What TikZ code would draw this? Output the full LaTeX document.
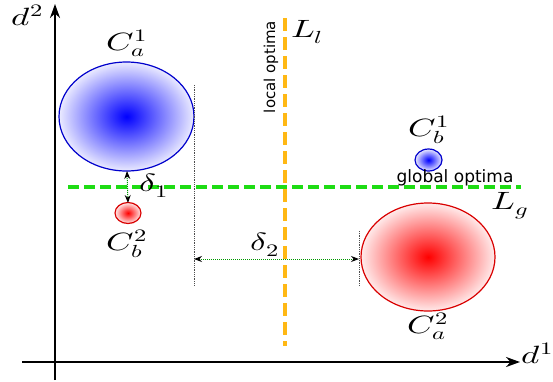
\documentclass[tikz,border=0pt]{standalone}
\usepackage{fontspec}
\usepackage{unicode-math}
\setmathfont{Latin Modern Math}
\newfontfamily\lblfont{DejaVu Sans}
\usetikzlibrary{arrows.meta}
\definecolor{optorange}{RGB}{255,184,20}
\definecolor{optgreen}{RGB}{30,220,20}
\newcommand{\stretchm}[1]{\scalebox{1.4}[1]{$#1$}}
\begin{document}
\begin{tikzpicture}[x=1pt,y=-1pt,
  axis/.style={line width=2.2pt,-{Stealth[length=14pt,width=10pt]}},
  mlabel/.style={font=\fontsize{25}{27}\selectfont,inner sep=1pt},
  sublabel/.style={font=\lblfont\fontsize{17}{19}\selectfont,inner sep=1pt},
  gap/.style={green!60!black,densely dotted,line width=1pt,{Stealth[black,length=8pt,width=6pt]}-{Stealth[black,length=8pt,width=6pt]}},
  guide/.style={black!70,densely dotted,line width=0.8pt},
  bluecl/.style={draw=blue!80!black,line width=1.2pt,inner color=blue,outer color=blue!8},
  redcl/.style={draw=red!85!black,line width=1.2pt,inner color=red,outer color=red!8}]
\useasboundingbox (0,0) rectangle (553,381);
% axes
\coordinate (xs) at (22,362);
\coordinate (xe) at (520,362);
\coordinate (ys) at (55,380);
\coordinate (ye) at (55,4);
\draw[axis] (xs) -- (xe);
\draw[axis] (ys) -- (ye);
\node[mlabel] (d1) at (537,353) {\stretchm{d^1}};
\node[mlabel] (d2) at (27,15) {\stretchm{d^2}};
% clusters
\path[bluecl] (126.5,116.5) ellipse [x radius=67.5,y radius=54.5];
\coordinate (ca1b) at (127,171);
\node[mlabel] (ca1) at (127,43) {\stretchm{C_a^1}};
\path[redcl] (128,213) ellipse [x radius=13,y radius=10.5];
\coordinate (cb2t) at (128,203);
\node[mlabel] (cb2) at (127,244) {\stretchm{C_b^2}};
\path[bluecl] (428.5,160) ellipse [x radius=13.5,y radius=11];
\node[mlabel] (cb1) at (429,130) {\stretchm{C_b^1}};
\path[redcl] (428,257) ellipse [x radius=67,y radius=54];
\node[mlabel] (ca2) at (428,326) {\stretchm{C_a^2}};
% optima lines
\coordinate (lgs) at (68,187);
\coordinate (lge) at (521,187);
\draw[optgreen,line width=4pt,dash pattern=on 11pt off 5pt] (lgs) -- (lge);
\node[mlabel] (lg) at (510,206) {\stretchm{L_g}};
\node[sublabel] (go) at (455,178) {global optima};
\coordinate (lls) at (285,18);
\coordinate (lle) at (285,346);
\draw[optorange,line width=4.5pt,dash pattern=on 13pt off 6pt] (lls) -- (lle);
\node[mlabel] (ll) at (307,32) {\stretchm{L_l}};
\node[sublabel,rotate=90,font=\lblfont\fontsize{15}{17}\selectfont] (lo) at (271,67) {local optima};
% guides
\coordinate (g1t) at (194,85);
\coordinate (g1b) at (194,286);
\draw[guide] (g1t) -- (g1b);
\coordinate (g2t) at (359,231);
\coordinate (g2b) at (359,286);
\draw[guide] (g2t) -- (g2b);
% deltas
\draw[gap] (ca1b) -- (cb2t);
\node[mlabel] (dl1) at (154,186) {\stretchm{\delta_1}};
\coordinate (d2s) at (194,259);
\coordinate (d2e) at (359,259);
\draw[gap] (d2s) -- (d2e);
\node[mlabel] (dl2) at (265,245) {\stretchm{\delta_2}};
\end{tikzpicture}
\end{document}
